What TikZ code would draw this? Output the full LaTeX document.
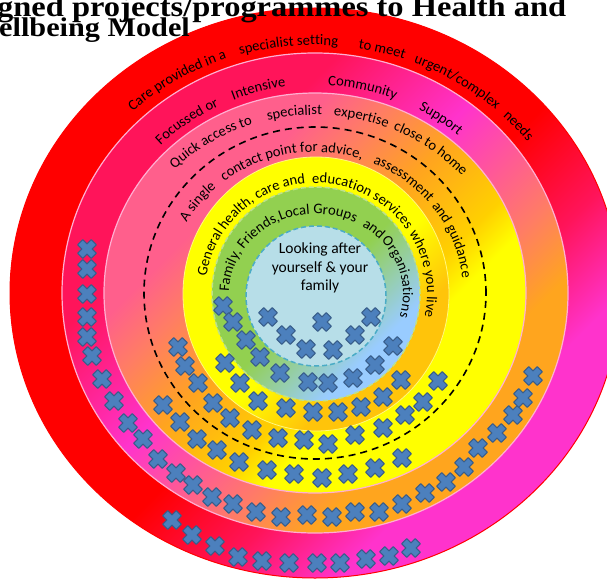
\documentclass[tikz,border=0pt]{standalone}
\usepackage{fontspec}
\setmainfont{Carlito}
\newfontfamily\titlefont[FakeStretch=1.12]{Liberation Serif}
\usetikzlibrary{decorations.text}

\definecolor{ringred}{RGB}{255,0,0}
\definecolor{crimson}{RGB}{255,20,90}
\definecolor{magentapink}{RGB}{255,51,204}
\definecolor{salmon}{RGB}{255,125,100}
\definecolor{orangeband}{RGB}{255,165,30}
\definecolor{quickpink}{RGB}{255,95,140}
\definecolor{gold}{RGB}{255,208,0}
\definecolor{deepgold}{RGB}{255,196,10}
\definecolor{leafgreen}{RGB}{146,208,80}
\definecolor{skyblue}{RGB}{153,204,255}
\definecolor{paleblue}{RGB}{183,222,232}
\definecolor{dashblue}{RGB}{75,172,198}
\definecolor{dashgreen}{RGB}{190,225,140}
\definecolor{crossblue}{RGB}{76,128,189}
\definecolor{crossedge}{RGB}{56,93,138}
\definecolor{linepink}{RGB}{255,175,210}

\pgfdeclarehorizontalshading{outershade}{100bp}{color(0bp)=(ringred); color(52.5bp)=(ringred); color(61bp)=(crimson); color(68.5bp)=(magentapink); color(100bp)=(magentapink)}
\pgfdeclarehorizontalshading{supportshade}{100bp}{color(0bp)=(crimson); color(34.5bp)=(crimson); color(47.5bp)=(magentapink); color(60.5bp)=(salmon); color(67bp)=(orangeband); color(100bp)=(orangeband)}
\pgfdeclarehorizontalshading{quickshade}{100bp}{color(0bp)=(quickpink); color(34bp)=(quickpink); color(40bp)=(salmon); color(48.5bp)=(orangeband); color(58bp)=(gold); color(62.5bp)=(yellow); color(100bp)=(yellow)}
\pgfdeclarehorizontalshading{generalshade}{100bp}{color(0bp)=(yellow); color(54bp)=(yellow); color(66bp)=(deepgold); color(100bp)=(deepgold)}
\pgfdeclarehorizontalshading{familyshade}{100bp}{color(0bp)=(leafgreen); color(50bp)=(leafgreen); color(69bp)=(skyblue); color(100bp)=(skyblue)}

\newcommand\ringfont{\fontsize{14.6}{16}\selectfont}
% text on a clockwise arc: centre, start angle, x radius, y radius, text
\newcommand\ringtext[5]{\path[decorate,decoration={text along path,text={|\ringfont|#5}}] ([shift={(#2:#3 and #4)}]#1) arc[start angle=#2,delta angle=-150,x radius=#3,y radius=#4];}

\begin{document}
\begin{tikzpicture}[x=1pt,y=1pt,
  pinkline/.style={draw=linepink,line width=1.2pt},
  ringshade/.style={shading angle=-45},
  crossfill/.style={fill=crossblue,draw=crossedge,line width=1.1pt,line join=round},
  xcross/.pic={\path[crossfill,rotate=45] (-3.6,9.6)--(3.6,9.6)--(3.6,3.6)--(9.6,3.6)--(9.6,-3.6)--(3.6,-3.6)--(3.6,-9.6)--(-3.6,-9.6)--(-3.6,-3.6)--(-9.6,-3.6)--(-9.6,3.6)--(-3.6,3.6)--cycle;}]
\useasboundingbox (0,0) rectangle (607,-580);
\clip (0,0) rectangle (607,-580);
\coordinate (o) at (315,-293);
\coordinate (g) at (316,-294);

% rings, outside in
\shadedraw[shading=outershade,ringshade,draw=ringred,line width=1pt] (o) ellipse[x radius=305,y radius=285];
\shadedraw[shading=supportshade,ringshade,pinkline] (o) ellipse[x radius=253,y radius=240];
\shadedraw[shading=quickshade,ringshade,pinkline] (o) ellipse[x radius=211,y radius=200];
\draw[black,line width=1.6pt,dash pattern=on 7pt off 5pt] (o) ellipse[x radius=171,y radius=166];
\shadedraw[shading=generalshade,ringshade,draw=yellow!50!white,line width=0.8pt] (g) ellipse[x radius=133,y radius=137];
\shadedraw[shading=familyshade,ringshade,draw=dashgreen,line width=1.5pt,dash pattern=on 5pt off 3pt] (g) ellipse[x radius=104,y radius=107];
\filldraw[fill=paleblue,draw=dashblue,line width=1.5pt,dash pattern=on 5pt off 3pt] (316,-296) circle[radius=70];

% ring labels
\ringtext{o}{132.8}{268}{248}{Care provided in a}
\ringtext{o}{106.2}{268}{248}{specialist setting}
\ringtext{o}{80.7}{268}{248}{to meet}
\ringtext{o}{68.4}{268}{248}{urgent/complex}
\ringtext{o}{45.5}{268}{248}{needs}
\ringtext{o}{134.8}{219}{208}{Focussed or}
\ringtext{o}{111.9}{219}{208}{Intensive}
\ringtext{o}{86.6}{219}{208}{Community}
\ringtext{o}{61.8}{219}{208}{Support}
\ringtext{o}{136}{195}{178}{Quick access to}
\ringtext{o}{104}{195}{178}{specialist}
\ringtext{o}{84.5}{195}{178}{expertise}
\ringtext{o}{66.4}{195}{178}{close to home}
\ringtext{o}{150.1}{148}{141}{A single}
\ringtext{o}{127.8}{148}{141}{contact point for advice,}
\ringtext{o}{67}{148}{141}{assessment}
\ringtext{o}{38}{148}{141}{and guidance}
\ringtext{g}{170.8}{111}{111}{General health, care and}
\ringtext{g}{92}{111}{111}{education services}
\ringtext{g}{33}{111}{111}{where you live}
\ringtext{g}{178.5}{87}{80}{Family, Friends,Local Groups}
\ringtext{g}{58}{87}{80}{and}
\ringtext{g}{41.5}{87}{80}{Organisations}

\node[align=center,font=\fontsize{15.5}{18.3}\selectfont,inner sep=0] (self) at (320,-268) {Looking after\\yourself \& your\\family};

% crosses
\foreach \x/\y in {268/317,286/335,306/349,322/322,333/350,355/335,371/317, % centre
  223/306,233/322,246/340,260/357,280/373,308/382,328/383,353/378,375/365,393/346, % family ring
  225/363,240/383,258/401,286/408,313/412,338/412,361/407,383/397,401/380, % general ring
  178/347,185/366,198/383,213/403,230/418,252/430,278/438,304/440,328/444,355/435,383/428,405/415,423/402,438/381,
  163/405,180/422,197/439,217/450,239/462,267/470,294/474,322/478,348/474,375/468,402/458}
  \pic at (\x,-\y) {xcross};
\foreach \x/\y in {87/249,87/269,87/294,87/317,87/337,92/356,102/379,114/401,128/423,143/439,158/459,176/473,193/485,212/497,233/504,256/512,281/517,307/515,332/517,355/512,379/512,402/504,425/493,446/482,464/467,478/448,497/433,513/415,523/398,533/376, % support ring
  172/520,192/535,215/546,238/557,262/561,289/563,317/563,340/563,366/559,389/556,411/548} % outer ring
  \pic at (\x,-\y) {xcross};

% cut-off title
\node[anchor=base west,inner sep=0,font=\titlefont\bfseries\fontsize{29}{30}\selectfont] (titleA) at (-3,-17) {gned projects/programmes to Health and};
\node[anchor=base west,inner sep=0,font=\titlefont\bfseries\fontsize{27}{30}\selectfont] (titleB) at (-1,-37) {ellbeing Model};
\end{tikzpicture}
\end{document}
